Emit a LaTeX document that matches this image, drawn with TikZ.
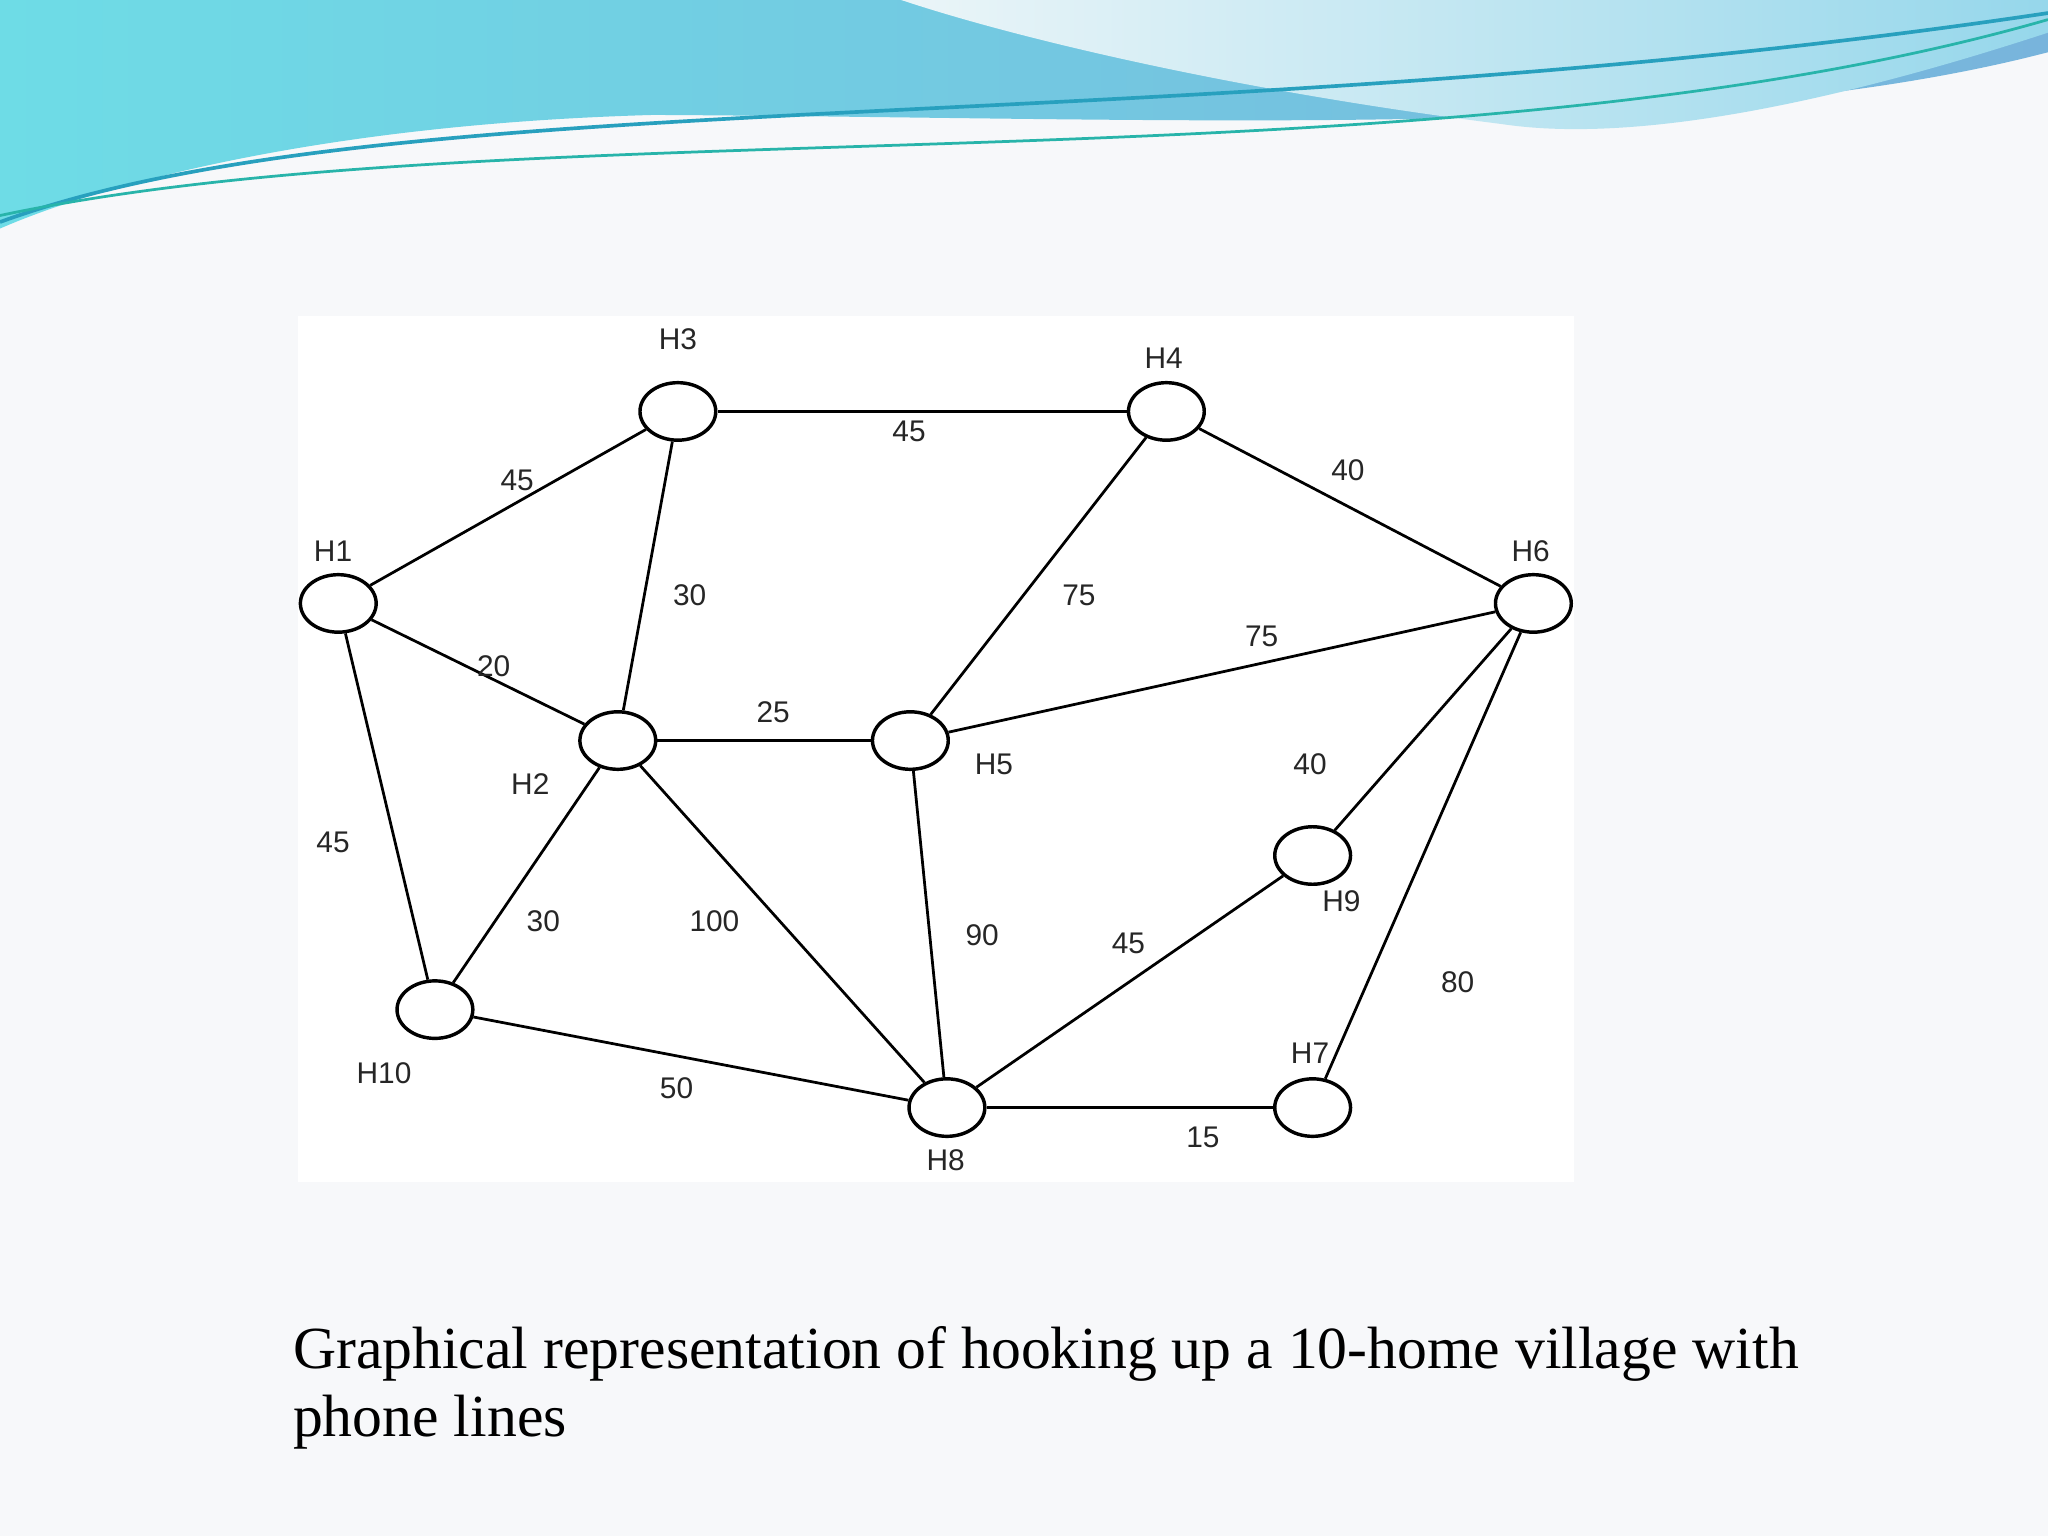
\documentclass[tikz,border=0pt]{standalone}
\usepackage{fontspec}
\setmainfont{Liberation Serif}
\setsansfont{Liberation Sans}
\usetikzlibrary{shapes.geometric}
\begin{document}
\begin{tikzpicture}[x=0.01cm,y=-0.01cm,
  hnode/.style={draw,ellipse,minimum width=0.58cm,minimum height=0.44cm,inner sep=0pt,line width=0.75pt},
  lbl/.style={font=\sffamily\fontsize{6.5pt}{7pt}\selectfont,text=black!85},
  edge/.style={line width=0.6pt}]
\fill[color={rgb,255:red,247;green,248;blue,250}] (0,0) rectangle (1568,1176);
\useasboundingbox (0,0) rectangle (1568,1176);
% wave
\shade[left color={rgb,255:red,110;green,220;blue,230},right color={rgb,255:red,120;green,180;blue,220}]
  (0,0) -- (1568,0) -- (1568,40) .. controls (1300,110) and (900,90) .. (500,88) .. controls (250,95) and (80,140) .. (0,175) -- cycle;
\shade[left color={rgb,255:red,235;green,245;blue,248},right color={rgb,255:red,150;green,215;blue,235}]
  (690,0) -- (1568,0) -- (1568,25) .. controls (1400,80) and (1250,110) .. (1150,95) .. controls (950,70) and (780,30) .. (690,0) -- cycle;
\draw[color={rgb,255:red,40;green,160;blue,190},line width=0.8pt] (0,170) .. controls (300,60) and (900,110) .. (1568,10);
\draw[color={rgb,255:red,40;green,180;blue,170},line width=0.6pt] (0,165) .. controls (400,80) and (1100,150) .. (1568,15);
% image area
\fill[white] (228,242) rectangle (1205,905);
\node[hnode] (H1) at (259,462) {};
\node[hnode] (H3) at (519,315) {};
\node[hnode] (H4) at (893,315) {};
\node[hnode] (H6) at (1174,462) {};
\node[hnode] (H2) at (473,567) {};
\node[hnode] (H5) at (697,567) {};
\node[hnode] (H9) at (1005,655) {};
\node[hnode] (H10) at (333,773) {};
\node[hnode] (H8) at (725,848) {};
\node[hnode] (H7) at (1005,848) {};
\foreach \a/\b in {H1/H3,H3/H4,H4/H6,H3/H2,H4/H5,H5/H6,H1/H2,H2/H5,H6/H9,H1/H10,H2/H10,H2/H8,H5/H8,H8/H9,H6/H7,H10/H8,H8/H7}
  \draw[edge] (\a) -- (\b);
\node[lbl] (tH3) at (519,260) {H3};
\node[lbl] (tH4) at (891,274) {H4};
\node[lbl] (tH1) at (255,422) {H1};
\node[lbl] (tH6) at (1172,422) {H6};
\node[lbl] (tH2) at (406,600) {H2};
\node[lbl] (tH5) at (761,585) {H5};
\node[lbl] (tH9) at (1027,690) {H9};
\node[lbl] (tH10) at (294,822) {H10};
\node[lbl] (tH8) at (724,888) {H8};
\node[lbl] (tH7) at (1003,806) {H7};
\node[lbl] (e1) at (396,368) {45};
\node[lbl] (e2) at (696,330) {45};
\node[lbl] (e3) at (1032,360) {40};
\node[lbl] (e4) at (528,456) {30};
\node[lbl] (e5) at (826,456) {75};
\node[lbl] (e6) at (966,487) {75};
\node[lbl] (e7) at (378,510) {20};
\node[lbl] (e8) at (592,545) {25};
\node[lbl] (e9) at (1003,585) {40};
\node[lbl] (e10) at (255,645) {45};
\node[lbl] (e11) at (416,705) {30};
\node[lbl] (e12) at (547,705) {100};
\node[lbl] (e13) at (752,716) {90};
\node[lbl] (e14) at (864,722) {45};
\node[lbl] (e15) at (1116,752) {80};
\node[lbl] (e16) at (518,833) {50};
\node[lbl] (e17) at (921,871) {15};
\node[anchor=north west,align=flush left,text width=12.2cm,font=\fontsize{13pt}{14.8pt}\selectfont] (cap) at (212,1003)
  {Graphical representation of hooking up a 10-home village with phone lines};
\end{tikzpicture}
\end{document}
